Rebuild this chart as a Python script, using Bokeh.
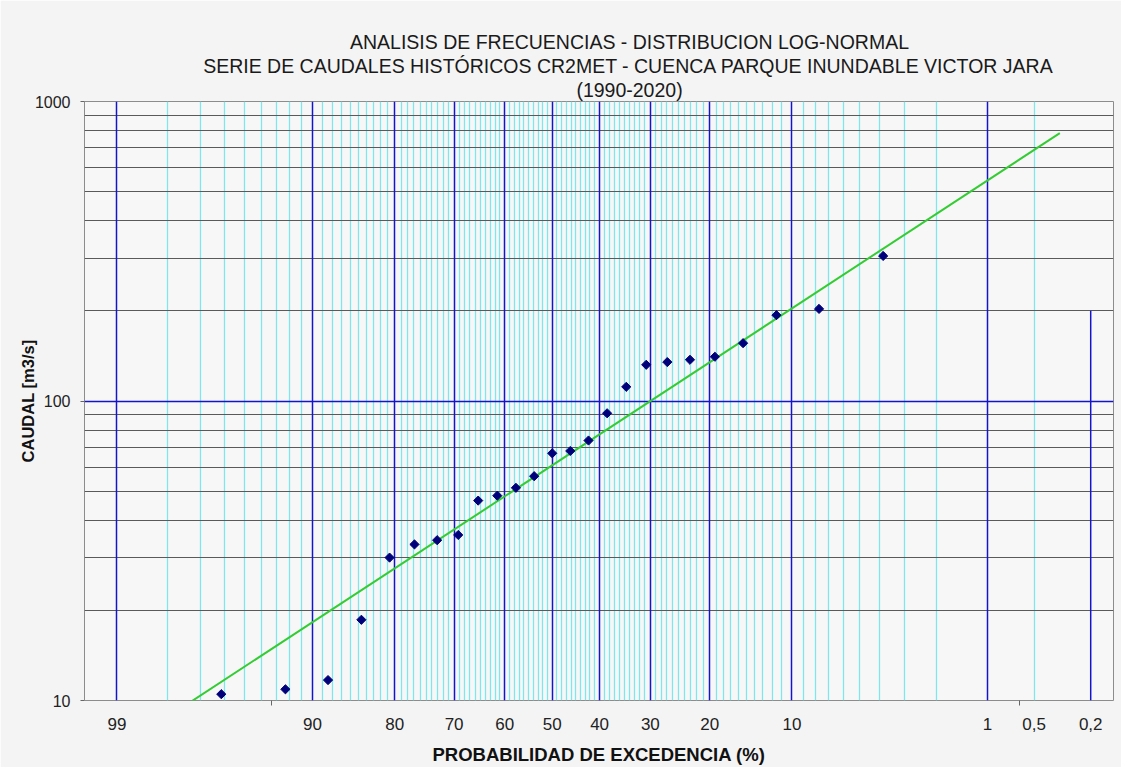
import re
import numpy as np
from statistics import NormalDist

from bokeh.plotting import figure
from bokeh.models import Range1d, FixedTicker, Grid, NumeralTickFormatter, Title
from bokeh.embed import file_html
from bokeh.resources import INLINE

# Caudales máximos anuales (m3/s), ordenados de mayor a menor
caudales = [305.0, 203.0, 193.5, 156.0, 140.5, 137.3, 134.9, 132.1, 111.5, 91.0,
            73.8, 68.1, 66.9, 56.1, 51.3, 48.3, 46.5, 35.7, 34.3, 33.2,
            30.0, 18.6, 11.7, 10.9, 10.5]

# Etiquetas del eje de probabilidad de excedencia (%)
prob_etiquetas = [99, 90, 80, 70, 60, 50, 40, 30, 20, 10, 1, 0.5, 0.2]
texto_etiquetas = ["99", "90", "80", "70", "60", "50", "40", "30", "20", "10", "1", "0,5", "0,2"]

# Líneas verticales principales y secundarias (% excedencia)
prob_principales = [99, 90, 80, 70, 60, 50, 40, 30, 20, 10, 1]
prob_secundarias = [k for k in range(2, 99) if k % 10 != 0] + [0.5]
prob_parcial = 0.2
caudal_parcial = [10, 200]

# Líneas horizontales (m3/s)
caudal_ticks = [10, 100, 1000]
caudal_secundarias = [20, 30, 40, 50, 60, 70, 80, 90, 200, 300, 400, 500, 600, 700, 800, 900]
caudal_principales = [100]

# Período de retorno máximo de la recta ajustada (años)
periodo_max = 300

titulo = ["ANALISIS DE FRECUENCIAS - DISTRIBUCION  LOG-NORMAL",
          "SERIE DE CAUDALES HISTÓRICOS  CR2MET - CUENCA PARQUE INUNDABLE VICTOR  JARA",
          "(1990-2020)"]

nd = NormalDist()


def zvar(p_exc):
    """Variable normal estándar para una probabilidad de excedencia en %."""
    return round(nd.inv_cdf(1.0 - p_exc / 100.0), 6)


# Posiciones de graficación de Weibull m/(n+1)
n = len(caudales)
p_weibull = [100.0 * (m + 1) / (n + 1) for m in range(n)]
z_obs = [zvar(pp) for pp in p_weibull]

# Ajuste log-normal (media y desviación de log10 Q)
logq = np.log10(caudales)
mu = float(np.mean(logq))
sd = float(np.std(logq, ddof=1))
z_fit = np.array([-2.5, zvar(100.0 / periodo_max)])
q_fit = 10 ** (mu + sd * z_fit)

FONT = "Liberation Sans"
FONDO = "#f4f4f4"
AZUL = "#1414cc"
TAM_TITULO = 19.5
CENTRO_TITULO = 545  # centro del título respecto al borde izquierdo del área de trazado

# Anchos de avance de Liberation Sans (unidades por 1000 em) para centrar el título
_ANCHOS = {" ": 278, "(": 333, ")": 333, "-": 333, "J": 500, "L": 556, "F": 611,
           "T": 611, "Z": 611, "I": 278, "M": 833, "W": 944,
           "C": 722, "D": 722, "H": 722, "N": 722, "R": 722, "U": 722,
           "G": 778, "O": 778, "Q": 778, "Ó": 778}


def ancho_texto(texto, tam):
    texto = re.sub(" +", " ", texto)
    total = 0
    for c in texto:
        if c.isdigit():
            total += 556
        else:
            total += _ANCHOS.get(c, 667)
    return total * tam / 1000.0


p = figure(width=1121, height=767,
           x_range=Range1d(-2.5, 3.0), y_range=Range1d(10, 1000),
           y_axis_type="log", output_backend="svg", toolbar_location=None,
           min_border_left=84, min_border_right=8,
           min_border_top=101, min_border_bottom=66,
           background_fill_color="#f7f7f7", border_fill_color=FONDO,
           outline_line_color="#8c8c8c", outline_line_width=1)

p.grid.visible = False

# Título: la última línea se agrega primero (queda más cerca del gráfico)
for linea in reversed(titulo):
    desplaz = CENTRO_TITULO - ancho_texto(linea, TAM_TITULO) / 2.0
    p.add_layout(Title(text=linea, align="left", offset=desplaz, standoff=0,
                       vertical_align="middle", text_font=FONT,
                       text_font_size=f"{TAM_TITULO}px", text_font_style="normal",
                       text_color="#1a1a1a"), "above")

# Retícula
p.add_layout(Grid(dimension=0, ticker=FixedTicker(ticks=[zvar(v) for v in prob_secundarias]),
                  grid_line_color="#80e6ea", grid_line_width=1.3))
p.add_layout(Grid(dimension=1, ticker=FixedTicker(ticks=caudal_secundarias),
                  grid_line_color="#5a5a5a", grid_line_width=1.1))
p.add_layout(Grid(dimension=0, ticker=FixedTicker(ticks=[zvar(v) for v in prob_principales]),
                  grid_line_color=AZUL, grid_line_width=1.5))
p.add_layout(Grid(dimension=1, ticker=FixedTicker(ticks=caudal_principales),
                  grid_line_color=AZUL, grid_line_width=1.5))

zp = zvar(prob_parcial)
p.segment(x0=[zp], y0=[caudal_parcial[0]], x1=[zp], y1=[caudal_parcial[1]],
          line_color=AZUL, line_width=1.5)

# Recta log-normal y datos observados
p.line(z_fit, q_fit, line_color="#33cc33", line_width=2)
p.scatter(z_obs, caudales, marker="square", angle=np.pi / 4, size=6.5,
          fill_color="#00007a", line_color="#00007a")

# Eje X
p.xaxis.ticker = FixedTicker(ticks=[zvar(v) for v in prob_etiquetas], minor_ticks=[-1.5, 2.5])
p.xaxis.major_label_overrides = {zvar(v): t for v, t in zip(prob_etiquetas, texto_etiquetas)}
p.xaxis.major_tick_line_color = None
p.xaxis.minor_tick_line_color = "#666666"
p.xaxis.minor_tick_in = 0
p.xaxis.minor_tick_out = 5
p.xaxis.axis_line_color = None
p.xaxis.major_label_standoff = 11
p.xaxis.major_label_text_font = FONT
p.xaxis.major_label_text_font_size = "17px"
p.xaxis.major_label_text_color = "#222222"
p.xaxis.axis_label = "PROBABILIDAD DE EXCEDENCIA (%)"
p.xaxis.axis_label_text_font = FONT
p.xaxis.axis_label_text_font_size = "18.5px"
p.xaxis.axis_label_text_font_style = "bold"
p.xaxis.axis_label_text_color = "#111111"
p.xaxis.axis_label_standoff = 11

# Eje Y
p.yaxis.ticker = FixedTicker(ticks=caudal_ticks)
p.yaxis.formatter = NumeralTickFormatter(format="0")
p.yaxis.major_tick_line_color = "#666666"
p.yaxis.major_tick_in = 0
p.yaxis.major_tick_out = 4
p.yaxis.minor_tick_line_color = None
p.yaxis.axis_line_color = None
p.yaxis.major_label_standoff = 10
p.yaxis.major_label_text_font = FONT
p.yaxis.major_label_text_font_size = "16px"
p.yaxis.major_label_text_color = "#222222"
p.yaxis.axis_label = "CAUDAL [m3/s]"
p.yaxis.axis_label_text_font = FONT
p.yaxis.axis_label_text_font_size = "16.5px"
p.yaxis.axis_label_text_font_style = "bold"
p.yaxis.axis_label_text_color = "#111111"
p.yaxis.axis_label_standoff = -5

open("out.html", "w").write(file_html(p, INLINE))
